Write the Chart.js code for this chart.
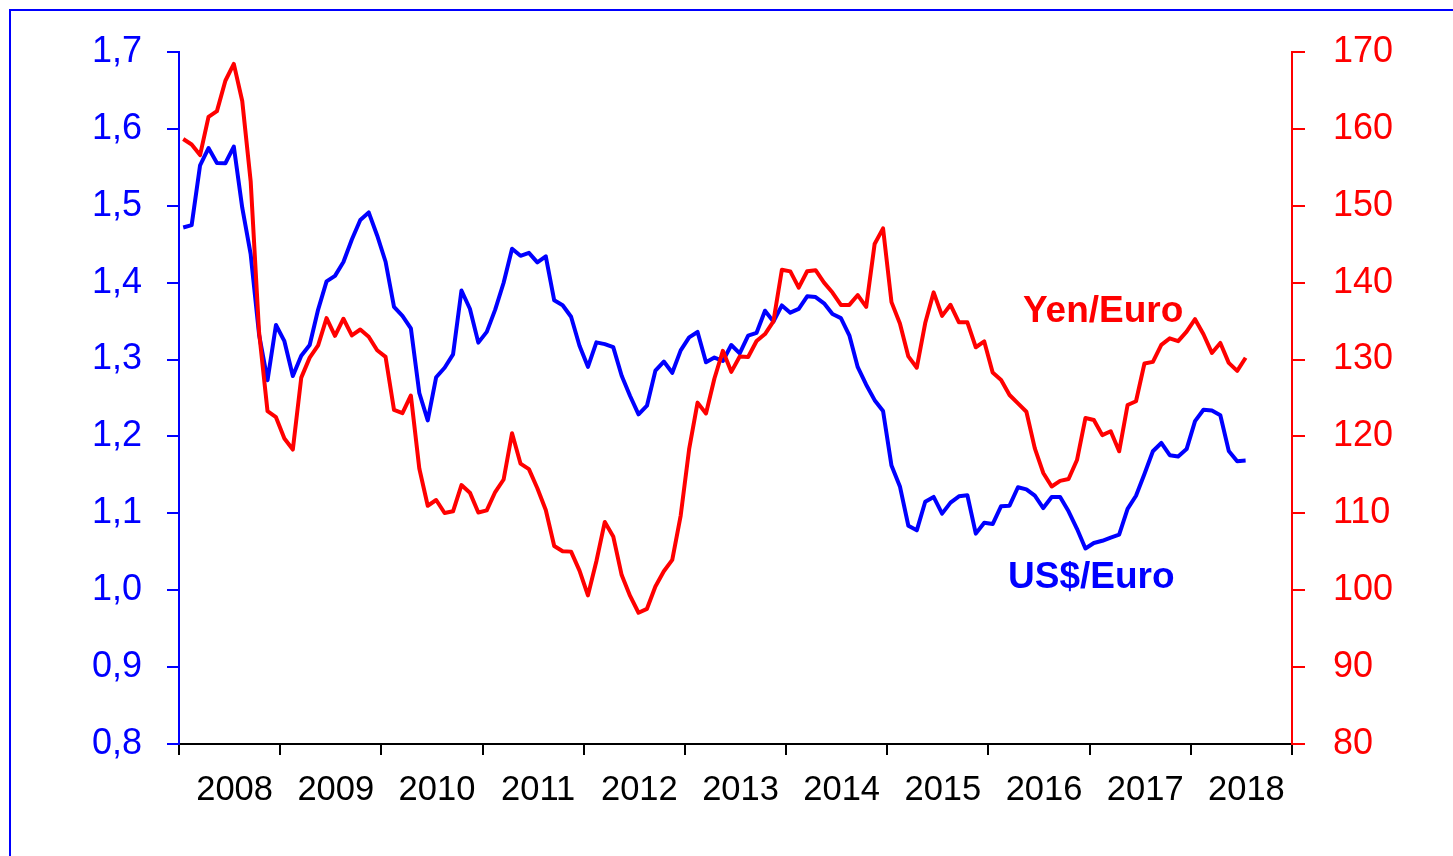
<!DOCTYPE html>
<html>
<head>
<meta charset="utf-8">
<script src="https://cdn.jsdelivr.net/npm/chart.js@4/dist/chart.umd.min.js"></script>
<style>
html,body{margin:0;padding:0;background:#fff;overflow:hidden;width:1453px;height:856px;}
#wrap{position:absolute;left:0;top:0;width:1453px;height:856px;}
#frame{position:absolute;left:9px;top:9px;width:1600px;height:1000px;border-left:2px solid #0000ff;border-top:2px solid #0000ff;pointer-events:none;}
</style>
</head>
<body>
<div id="wrap"><canvas id="c"></canvas></div>
<div id="frame"></div>
<script>
// ---- data (monthly, Jan 2008 - Jul 2018) ----
const yearLabels = ['2008','2009','2010','2011','2012','2013','2014','2015','2016','2017','2018'];

const usdEuro = [
  1.4718, 1.4748, 1.5527, 1.5751, 1.5557, 1.5553, 1.5770, 1.4975, 1.4370, 1.3322, 1.2732, 1.3449,
  1.3239, 1.2785, 1.3050, 1.3190, 1.3650, 1.4016, 1.4088, 1.4268, 1.4562, 1.4816, 1.4914, 1.4614,
  1.4272, 1.3686, 1.3569, 1.3406, 1.2565, 1.2209, 1.2770, 1.2894, 1.3067, 1.3898, 1.3661, 1.3220,
  1.3360, 1.3649, 1.3999, 1.4442, 1.4349, 1.4388, 1.4264, 1.4343, 1.3770, 1.3706, 1.3556, 1.3179,
  1.2905, 1.3224, 1.3201, 1.3162, 1.2789, 1.2526, 1.2288, 1.2400, 1.2856, 1.2974, 1.2828, 1.3119,
  1.3288, 1.3359, 1.2964, 1.3026, 1.2982, 1.3189, 1.3080, 1.3310, 1.3348, 1.3635, 1.3493, 1.3704,
  1.3610, 1.3659, 1.3823, 1.3813, 1.3732, 1.3592, 1.3539, 1.3316, 1.2901, 1.2673, 1.2472, 1.2331,
  1.1621, 1.1350, 1.0838, 1.0779, 1.1150, 1.1213, 1.0996, 1.1139, 1.1221, 1.1235, 1.0736, 1.0877,
  1.0860, 1.1093, 1.1100, 1.1339, 1.1311, 1.1229, 1.1069, 1.1212, 1.1212, 1.1026, 1.0799, 1.0543,
  1.0614, 1.0643, 1.0685, 1.0723, 1.1058, 1.1229, 1.1511, 1.1807, 1.1915, 1.1756, 1.1738, 1.1836,
  1.2200, 1.2348, 1.2336, 1.2276, 1.1812, 1.1678, 1.1686
];

const yenEuro = [
  158.68, 157.97, 156.59, 161.56, 162.31, 166.26, 168.45, 163.63, 153.20, 133.52, 123.28, 122.51,
  119.73, 118.30, 127.65, 130.25, 131.85, 135.39, 133.09, 135.31, 133.14, 133.91, 132.97, 131.21,
  130.34, 123.46, 123.03, 125.33, 115.83, 110.99, 111.73, 110.04, 110.26, 113.67, 112.69, 110.11,
  110.38, 112.77, 114.40, 120.42, 116.47, 115.75, 113.26, 110.43, 105.75, 105.06, 105.02, 102.55,
  99.33, 103.77, 108.88, 107.00, 101.97, 99.26, 97.07, 97.58, 100.49, 102.47, 103.94, 109.71,
  118.34, 124.40, 122.99, 127.54, 131.13, 128.40, 130.39, 130.34, 132.41, 133.32, 134.97, 141.68,
  141.47, 139.35, 141.48, 141.62, 140.00, 138.72, 137.11, 137.11, 138.39, 136.85, 145.03, 147.06,
  137.47, 134.69, 130.41, 128.94, 134.75, 138.74, 135.68, 137.12, 134.85, 134.84, 131.60, 132.36,
  128.32, 127.35, 125.39, 124.29, 123.21, 118.45, 115.25, 113.49, 114.22, 114.47, 116.93, 122.39,
  122.14, 120.17, 120.68, 118.07, 124.09, 124.58, 129.48, 129.70, 131.92, 132.76, 132.39, 133.64,
  135.25, 133.29, 130.86, 132.16, 129.57, 128.53, 130.23
];

const usdTicks = [0.8, 0.9, 1.0, 1.1, 1.2, 1.3, 1.4, 1.5, 1.6, 1.7];
const yenTicks = [80, 90, 100, 110, 120, 130, 140, 150, 160, 170];
const seriesNames = ['Yen/Euro', 'US$/Euro'];

// ---- build ----
const monthsTotal = yearLabels.length * 12;
const xTickValues = [];
for (let k = 0; k <= monthsTotal; k += 6) xTickValues.push(k);

const toPoints = arr => arr.map((v, i) => ({ x: i + 0.5, y: v }));

const BLUE = '#0000ff', RED = '#ff0000';
const FONT = '"Liberation Sans", Arial, sans-serif';

const seriesLabels = {
  id: 'seriesLabels',
  afterDatasetsDraw(chart) {
    const { ctx, scales } = chart;
    ctx.save();
    ctx.font = 'bold 37px ' + FONT;
    ctx.textAlign = 'center';
    ctx.textBaseline = 'alphabetic';
    ctx.fillStyle = RED;
    ctx.fillText(seriesNames[0], scales.x.getPixelForValue(109.6), scales.yR.getPixelForValue(134.9));
    ctx.fillStyle = BLUE;
    ctx.fillText(seriesNames[1], scales.x.getPixelForValue(108.2), scales.yL.getPixelForValue(1.0025));
    ctx.restore();
  }
};

new Chart(document.getElementById('c'), {
  type: 'line',
  data: {
    datasets: [
      { label: seriesNames[0], data: toPoints(yenEuro), yAxisID: 'yR',
        borderColor: RED, borderWidth: 4, pointRadius: 0, tension: 0, borderJoinStyle: 'round', fill: false },
      { label: seriesNames[1], data: toPoints(usdEuro), yAxisID: 'yL',
        borderColor: BLUE, borderWidth: 4, pointRadius: 0, tension: 0, borderJoinStyle: 'round', fill: false }
    ]
  },
  options: {
    responsive: true,
    maintainAspectRatio: false,
    animation: false,
    events: [],
    layout: { padding: { top: 52, left: 0, right: 0, bottom: 0 } },
    plugins: { legend: { display: false }, tooltip: { enabled: false }, title: { display: false } },
    scales: {
      x: {
        type: 'linear', position: 'bottom', min: 0, max: monthsTotal,
        afterBuildTicks(s) { s.ticks = xTickValues.map(v => ({ value: v })); },
        afterFit(s) { s.height = 112; },
        border: { display: true, color: '#000', width: 2 },
        grid: {
          drawOnChartArea: false, drawTicks: true, tickLength: 11, color: '#000', lineWidth: 2,
          tickWidth: 2,
          tickColor: c => (c.tick && c.tick.value % 12 === 0) ? '#000' : 'rgba(0,0,0,0)'
        },
        ticks: {
          autoSkip: false, maxRotation: 0, minRotation: 0, padding: 15, labelOffset: 5, color: '#000',
          font: { family: FONT, size: 34.5 },
          callback: v => (v % 12 === 6) ? yearLabels[(v - 6) / 12] : ''
        }
      },
      yL: {
        type: 'linear', position: 'left', min: 0.8, max: 1.7,
        afterBuildTicks(s) { s.ticks = usdTicks.map(v => ({ value: v })); },
        afterFit(s) { s.width = 179; },
        border: { display: true, color: BLUE, width: 2 },
        grid: { drawOnChartArea: false, drawTicks: true, tickLength: 12, color: BLUE, lineWidth: 2, tickColor: BLUE },
        ticks: {
          padding: 25, color: BLUE, font: { family: FONT, size: 36 },
          callback: v => Number(v).toFixed(1).replace('.', ',')
        }
      },
      yR: {
        type: 'linear', position: 'right', min: 80, max: 170,
        afterBuildTicks(s) { s.ticks = yenTicks.map(v => ({ value: v })); },
        afterFit(s) { s.width = 161; },
        border: { display: true, color: RED, width: 2 },
        grid: { drawOnChartArea: false, drawTicks: true, tickLength: 13, color: RED, lineWidth: 2, tickColor: RED },
        ticks: {
          padding: 28, color: RED, font: { family: FONT, size: 36 },
          callback: v => String(v)
        }
      }
    }
  },
  plugins: [seriesLabels]
});
</script>
</body>
</html>
